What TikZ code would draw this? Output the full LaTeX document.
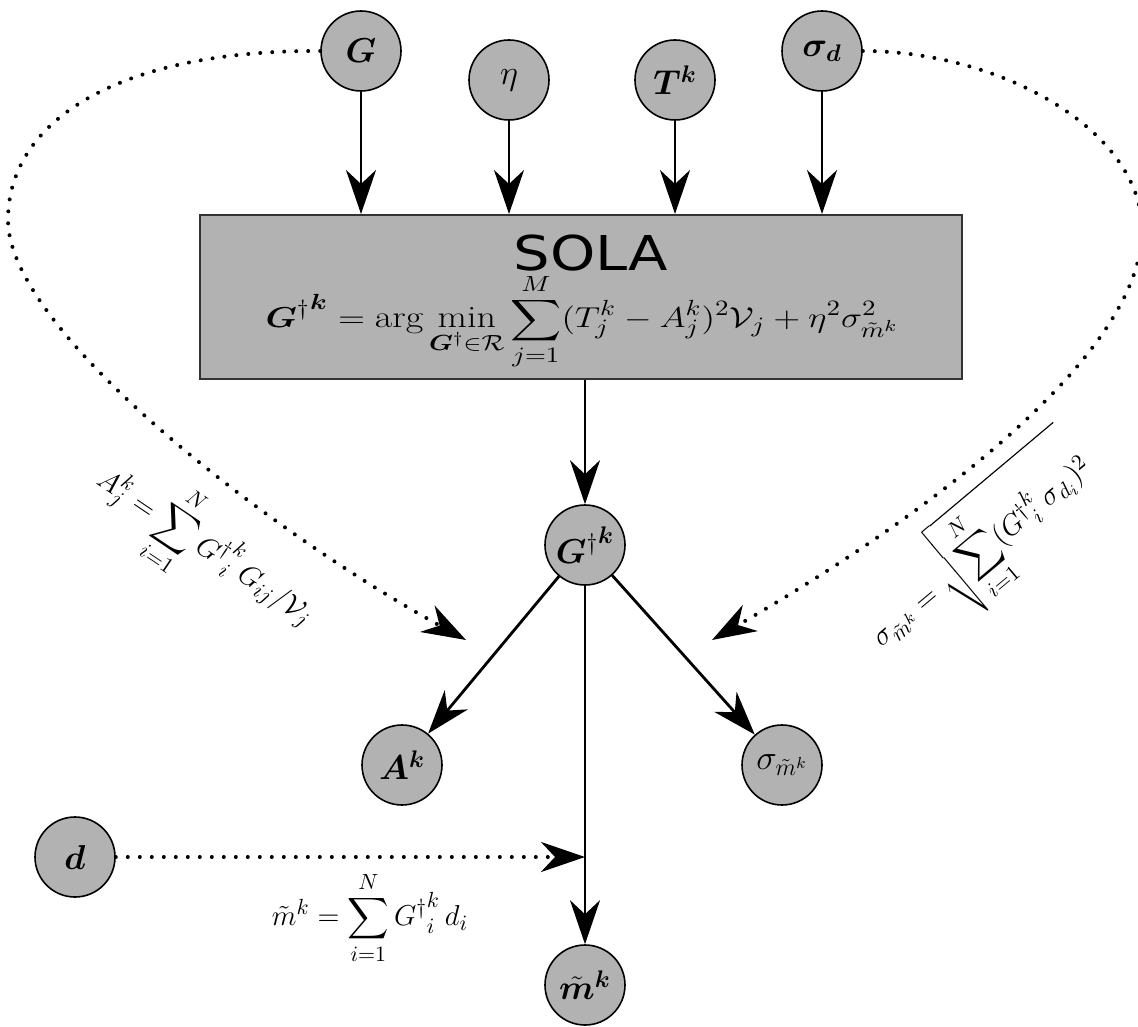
\documentclass[tikz,border=0pt]{standalone}
\usepackage{amsmath,bm,graphicx}
\usepackage{fontspec}
\newfontfamily\titlefont{DejaVu Sans}
\usetikzlibrary{arrows.meta}
\begin{document}
\begin{tikzpicture}[x=0.5pt,y=-0.5pt,
  var/.style={circle,draw=black,line width=0.8pt,fill=black!30,minimum size=40pt,inner sep=0pt,font=\fontsize{17}{19}\selectfont},
  procbox/.style={rectangle,draw=black!80,line width=1pt,fill=black!30,minimum width=381pt,minimum height=82pt,inner sep=0pt},
  arr/.style={line width=1.4pt,-{Stealth[length=22pt,width=15pt,inset=7pt]}},
  dotarr/.style={line width=2pt,line cap=round,dash pattern=on 0pt off 6pt,-{Stealth[length=22pt,width=15pt,inset=7pt]}},
  lbl/.style={font=\fontsize{15.5}{17}\selectfont,inner sep=0pt}]
\useasboundingbox (0,0) rectangle (1138,1026);
% input nodes
\node[var] (G) at (361,51) {$\bm G$};
\node[var] (eta) at (509,80) {$\eta$};
\node[var] (T) at (675,80) {$\bm{T^k}$};
\node[var] (sd) at (822,51) {$\bm{\sigma_d}$};
% SOLA box
\node[procbox] (sola) at (581,297) {};
\node[inner sep=0pt,font=\titlefont\fontsize{24}{26}\selectfont] (title) at (591,253) {\scalebox{1.2}[1]{SOLA}};
\node[lbl] (eq) at (582,322)
  {\scalebox{1.23}[1]{$\displaystyle {\bm G^{\dagger}}^{\bm k} = \arg\min_{\bm G^{\dagger}\in\mathcal R}\sum_{j=1}^{M}(T_j^k-A_j^k)^2\mathcal V_j+\eta^2\sigma_{\tilde m^k}^2$}};
% output nodes
\node[var] (Gd) at (585,545) {${\bm G^{\dagger}}^{\bm k}$};
\node[var] (A) at (402,765) {$\bm{A^k}$};
\node[var] (sm) at (782,765) {$\sigma_{\tilde m^k}$};
\node[var] (d) at (75,857) {$\bm d$};
\node[var] (m) at (585,985) {$\bm{\tilde m^k}$};
\coordinate (junc) at (585,857);
\coordinate (tipA) at (466,640);
\coordinate (tipS) at (712,640);
% arrows into SOLA
\draw[arr] (G) -- (G |- sola.north);
\draw[arr] (eta) -- (eta |- sola.north);
\draw[arr] (T) -- (T |- sola.north);
\draw[arr] (sd) -- (sd |- sola.north);
% SOLA to G dagger
\draw[arr] (sola.south -| Gd) -- (Gd);
% G dagger outputs
\draw[arr] (Gd) -- (A);
\draw[arr] (Gd) -- (sm);
\draw[arr] (Gd) -- (m);
% dotted
\draw[dotarr] (G.west) .. controls (120,50) and (8,120) .. (8,220)
   .. controls (8,330) and (266,530) .. (tipA);
\draw[dotarr] (sd.east) .. controls (1000,51) and (1142,130) .. (1142,230)
   .. controls (1142,360) and (912,525) .. (tipS);
\draw[dotarr] (d) -- (junc);
% labels
\node[lbl,rotate=-34] (lA) at (205,548)
  {$\displaystyle A_j^k=\sum_{i=1}^{N}{G^{\dagger}}^k_i\,G_{ij}/\mathcal V_j$};
\node[lbl,rotate=40] (lS) at (980,550)
  {$\displaystyle \sigma_{\tilde m^k}=\sqrt{\sum_{i=1}^{N}({G^{\dagger}}^k_i\,\sigma_{d_i})^2}$};
\node[lbl] (lM) at (370,918)
  {$\displaystyle \tilde m^k=\sum_{i=1}^{N}{G^{\dagger}}^k_i\,d_i$};
\end{tikzpicture}
\end{document}
